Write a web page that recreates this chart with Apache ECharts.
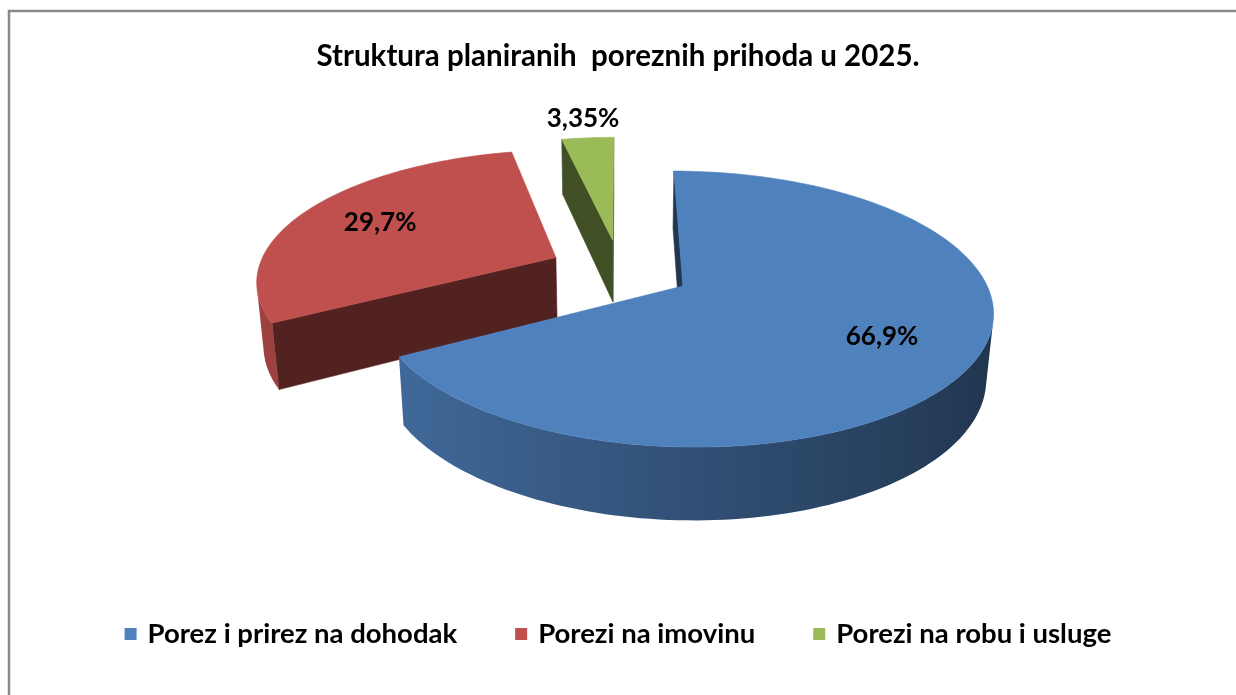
<!DOCTYPE html>
<html>
<head>
<meta charset="utf-8">
<script src="https://cdn.jsdelivr.net/npm/echarts@6/dist/echarts.min.js"></script>
<style>
  html, body { margin: 0; padding: 0; background: #fff; }
  #chart { width: 1236px; height: 695px; }
</style>
</head>
<body>
<div id="chart"></div>
<script>
// podaci
var categories = ['Porez i prirez na dohodak', 'Porezi na imovinu', 'Porezi na robu i usluge'];
var shares = [66.9, 29.7, 3.35];
var colors = ['#4F81BD', '#C0504D', '#9BBB59'];

// 3D pogled (perspektiva)
var view = { cx: 620, cy: 270, f: 1640, dist: 5.5, tilt: 25.6 * Math.PI / 180, height: 0.24, explode: 0.24 };

function project(x, y, z) {
    var s = Math.sin(view.tilt), c = Math.cos(view.tilt);
    var d = view.dist + z * c - y * s;
    var u = y * c + z * s;
    return [view.cx + view.f * x / d, view.cy - view.f * u / d];
}

function shade(hex, k) {
    var n = parseInt(hex.slice(1), 16);
    var r = Math.round(((n >> 16) & 255) * k), g = Math.round(((n >> 8) & 255) * k), b = Math.round((n & 255) * k);
    return 'rgb(' + r + ',' + g + ',' + b + ')';
}

function poly(points, fill) {
    return { type: 'polygon', shape: { points: points }, style: { fill: fill, stroke: fill, lineWidth: 0.6 } };
}

function fmt(v) {
    return String(v).replace('.', ',') + '%';
}

// kutovi kriski (od 12 sati, u smjeru kazaljke)
var total = shares.reduce(function (a, b) { return a + b; }, 0);
var startAngle = [], endAngle = [];
var acc = 0;
for (var i = 0; i < shares.length; i++) {
    startAngle.push(acc / total * Math.PI * 2);
    acc += shares[i];
    endAngle.push(acc / total * Math.PI * 2);
}
// redoslijed crtanja: dalje kriske prve
var depth = startAngle.map(function (a, i) { return Math.cos((a + endAngle[i]) / 2); });
var order = depth.map(function (d, i) { return i; }).sort(function (a, b) { return depth[b] - depth[a]; });

function renderSlice(params, api) {
    var a0 = api.value(0), a1 = api.value(1), share = api.value(2);
    var base = api.visual('color');
    var mid = (a0 + a1) / 2;
    var ox = view.explode * Math.sin(mid), oz = view.explode * Math.cos(mid);
    var h = view.height;
    var Dc = view.dist * Math.cos(view.tilt);
    var steps = Math.max(6, Math.ceil((a1 - a0) / (Math.PI / 120)));
    var ts = [];
    for (var k = 0; k <= steps; k++) ts.push(a0 + (a1 - a0) * k / steps);
    var rim = function (t, y) { return project(ox + Math.sin(t), y, oz + Math.cos(t)); };
    var apexTop = project(ox, 0, oz), apexBot = project(ox, -h, oz);
    var children = [];
    var sideColor = shade(base, 0.42);

    // bocne plohe
    if (Math.cos(a0) * ox + Math.sin(a0) * (-Dc - oz) > 0) {
        children.push(poly([apexTop, rim(a0, 0), rim(a0, -h), apexBot], sideColor));
    }
    if (-Math.cos(a1) * ox - Math.sin(a1) * (-Dc - oz) > 0) {
        children.push(poly([apexTop, rim(a1, 0), rim(a1, -h), apexBot], sideColor));
    }

    // vanjski zid (samo vidljivi dio)
    var run = [];
    function flush() {
        if (run.length >= 2) {
            var topPts = run.map(function (t) { return rim(t, 0); });
            var botPts = run.slice().reverse().map(function (t) { return rim(t, -h); });
            var pts = topPts.concat(botPts);
            var xs = pts.map(function (p) { return p[0]; });
            var minX = Math.min.apply(null, xs), maxX = Math.max.apply(null, xs);
            var stops = [];
            var every = Math.max(1, Math.floor(run.length / 8));
            for (var j = 0; j < run.length; j += every) {
                var off = (topPts[j][0] - minX) / Math.max(1, maxX - minX);
                stops.push({ offset: Math.min(1, Math.max(0, off)), color: shade(base, 0.62 - 0.22 * Math.sin(run[j])) });
            }
            stops.sort(function (a, b) { return a.offset - b.offset; });
            children.push({
                type: 'polygon', shape: { points: pts },
                style: {
                    fill: { type: 'linear', x: 0, y: 0, x2: 1, y2: 0, colorStops: stops },
                    stroke: null
                }
            });
        }
        run = [];
    }
    ts.forEach(function (t) {
        if (-ox * Math.sin(t) - (Dc + oz) * Math.cos(t) - 1 > 0) run.push(t); else flush();
    });
    flush();

    // gornja ploha
    children.push(poly([apexTop].concat(ts.map(function (t) { return rim(t, 0); })), base));

    // oznaka
    var lr = share < 5 ? 1.22 : 0.7;
    var lp = project(ox + lr * Math.sin(mid), 0, oz + lr * Math.cos(mid));
    children.push({
        type: 'text', x: lp[0], y: lp[1], z2: 10,
        style: {
            text: fmt(share), fill: '#000', font: 'bold 26px Lato',
            align: 'center', verticalAlign: 'middle', textAlign: 'center', textVerticalAlign: 'middle'
        }
    });
    return { type: 'group', children: children };
}

var myChart = echarts.init(document.getElementById('chart'));

var option = {
    backgroundColor: '#fff',
    animation: false,
    title: {
        text: 'Struktura planiranih  poreznih prihoda u 2025.',
        left: 'center',
        top: 36,
        textStyle: { fontFamily: 'Lato', fontWeight: 'bold', fontSize: 29.5, color: '#000' }
    },
    legend: {
        top: 615,
        left: 'center',
        icon: 'rect',
        itemWidth: 12,
        itemHeight: 12,
        itemGap: 58,
        data: categories,
        textStyle: { fontFamily: 'Lato', fontWeight: 'bold', fontSize: 27.5, color: '#000', padding: [0, 0, 0, 6] }
    },
    graphic: [{
        type: 'rect', silent: true, z: -1,
        shape: { x: 9, y: 11, width: 1300, height: 800 },
        style: { fill: 'none', stroke: '#8a8a8a', lineWidth: 2.5 }
    }],
    series: categories.map(function (name, i) {
        return {
            type: 'custom',
            name: name,
            coordinateSystem: 'none',
            silent: true,
            z: 2 + order.indexOf(i),
            itemStyle: { color: colors[i] },
            data: [[startAngle[i], endAngle[i], shares[i]]],
            renderItem: renderSlice
        };
    })
};

myChart.setOption(option);
</script>
</body>
</html>
